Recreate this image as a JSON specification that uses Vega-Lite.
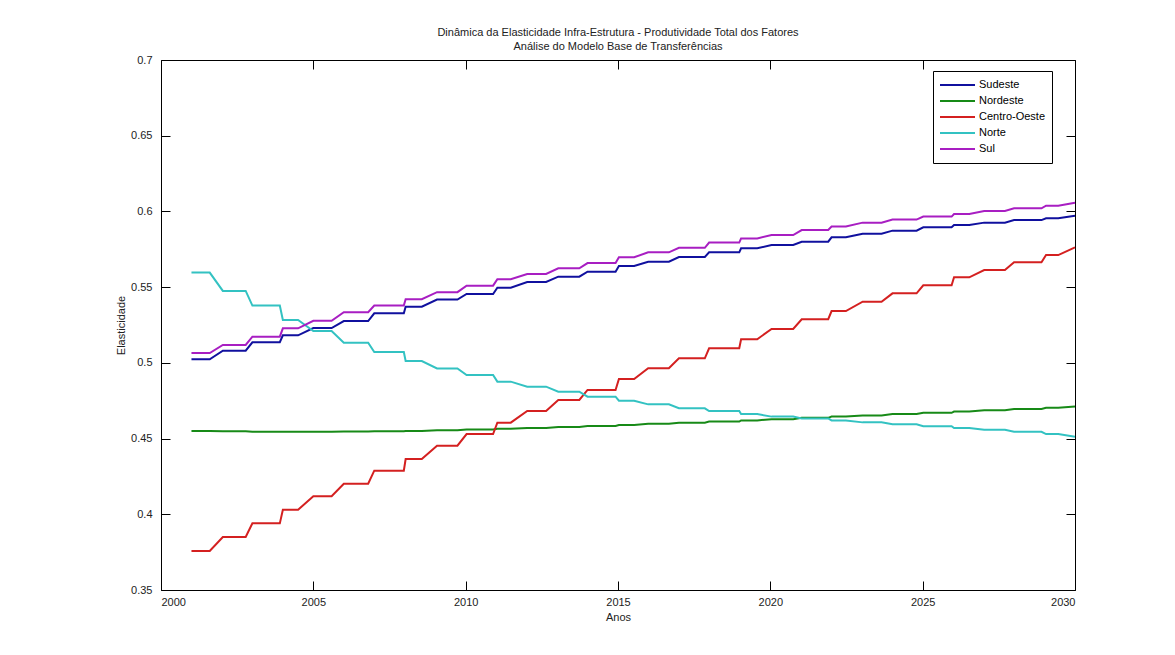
{
  "$schema": "https://vega.github.io/schema/vega-lite/v6.json",
  "width": 914,
  "height": 530,
  "autosize": "none",
  "padding": {"left": 161, "top": 60, "right": 100, "bottom": 65},
  "background": "white",
  "title": {
    "text": ["Dinâmica da Elasticidade Infra-Estrutura - Produtividade Total dos Fatores", "Análise do Modelo Base de Transferências"],
    "fontSize": 11, "font": "Liberation Sans", "fontWeight": "normal", "color": "#222",
    "anchor": "middle", "offset": 2, "lineHeight": 14
  },
  "data": {"values": [
    {"t": 2001.0, "Sudeste": 0.5023, "Nordeste": 0.4550, "Centro-Oeste": 0.3758, "Norte": 0.5596, "Sul": 0.5065},
    {"t": 2001.6, "Sudeste": 0.5023, "Nordeste": 0.4550, "Centro-Oeste": 0.3758, "Norte": 0.5596, "Sul": 0.5065},
    {"t": 2002.03, "Sudeste": 0.5080, "Nordeste": 0.4548, "Centro-Oeste": 0.3850, "Norte": 0.5475, "Sul": 0.5118},
    {"t": 2002.78, "Sudeste": 0.5080, "Nordeste": 0.4548, "Centro-Oeste": 0.3850, "Norte": 0.5475, "Sul": 0.5118},
    {"t": 2003.0, "Sudeste": 0.5136, "Nordeste": 0.4545, "Centro-Oeste": 0.3940, "Norte": 0.5378, "Sul": 0.5173},
    {"t": 2003.9, "Sudeste": 0.5136, "Nordeste": 0.4545, "Centro-Oeste": 0.3940, "Norte": 0.5378, "Sul": 0.5173},
    {"t": 2004.0, "Sudeste": 0.5182, "Nordeste": 0.4545, "Centro-Oeste": 0.4030, "Norte": 0.5283, "Sul": 0.5228},
    {"t": 2004.5, "Sudeste": 0.5182, "Nordeste": 0.4545, "Centro-Oeste": 0.4030, "Norte": 0.5283, "Sul": 0.5228},
    {"t": 2005.0, "Sudeste": 0.5230, "Nordeste": 0.4545, "Centro-Oeste": 0.4119, "Norte": 0.5210, "Sul": 0.5278},
    {"t": 2005.6, "Sudeste": 0.5230, "Nordeste": 0.4545, "Centro-Oeste": 0.4119, "Norte": 0.5210, "Sul": 0.5278},
    {"t": 2006.0, "Sudeste": 0.5276, "Nordeste": 0.4547, "Centro-Oeste": 0.4202, "Norte": 0.5133, "Sul": 0.5334},
    {"t": 2006.8, "Sudeste": 0.5276, "Nordeste": 0.4547, "Centro-Oeste": 0.4202, "Norte": 0.5133, "Sul": 0.5334},
    {"t": 2007.0, "Sudeste": 0.5327, "Nordeste": 0.4548, "Centro-Oeste": 0.4288, "Norte": 0.5072, "Sul": 0.5378},
    {"t": 2007.97, "Sudeste": 0.5327, "Nordeste": 0.4548, "Centro-Oeste": 0.4288, "Norte": 0.5072, "Sul": 0.5378},
    {"t": 2008.03, "Sudeste": 0.5371, "Nordeste": 0.4550, "Centro-Oeste": 0.4365, "Norte": 0.5012, "Sul": 0.5420},
    {"t": 2008.56, "Sudeste": 0.5371, "Nordeste": 0.4550, "Centro-Oeste": 0.4365, "Norte": 0.5012, "Sul": 0.5420},
    {"t": 2009.06, "Sudeste": 0.5418, "Nordeste": 0.4555, "Centro-Oeste": 0.4453, "Norte": 0.4963, "Sul": 0.5467},
    {"t": 2009.73, "Sudeste": 0.5418, "Nordeste": 0.4555, "Centro-Oeste": 0.4453, "Norte": 0.4963, "Sul": 0.5467},
    {"t": 2010.03, "Sudeste": 0.5455, "Nordeste": 0.4560, "Centro-Oeste": 0.4530, "Norte": 0.4920, "Sul": 0.5510},
    {"t": 2010.9, "Sudeste": 0.5455, "Nordeste": 0.4560, "Centro-Oeste": 0.4530, "Norte": 0.4920, "Sul": 0.5510},
    {"t": 2011.04, "Sudeste": 0.5496, "Nordeste": 0.4565, "Centro-Oeste": 0.4605, "Norte": 0.4876, "Sul": 0.5552},
    {"t": 2011.48, "Sudeste": 0.5496, "Nordeste": 0.4565, "Centro-Oeste": 0.4605, "Norte": 0.4876, "Sul": 0.5552},
    {"t": 2012.02, "Sudeste": 0.5534, "Nordeste": 0.4570, "Centro-Oeste": 0.4682, "Norte": 0.4843, "Sul": 0.5587},
    {"t": 2012.64, "Sudeste": 0.5534, "Nordeste": 0.4570, "Centro-Oeste": 0.4682, "Norte": 0.4843, "Sul": 0.5587},
    {"t": 2013.04, "Sudeste": 0.5569, "Nordeste": 0.4577, "Centro-Oeste": 0.4755, "Norte": 0.4810, "Sul": 0.5624},
    {"t": 2013.73, "Sudeste": 0.5569, "Nordeste": 0.4577, "Centro-Oeste": 0.4755, "Norte": 0.4810, "Sul": 0.5624},
    {"t": 2014.0, "Sudeste": 0.5602, "Nordeste": 0.4583, "Centro-Oeste": 0.4821, "Norte": 0.4777, "Sul": 0.5659},
    {"t": 2014.92, "Sudeste": 0.5602, "Nordeste": 0.4583, "Centro-Oeste": 0.4821, "Norte": 0.4777, "Sul": 0.5659},
    {"t": 2015.03, "Sudeste": 0.5640, "Nordeste": 0.4590, "Centro-Oeste": 0.4893, "Norte": 0.4750, "Sul": 0.5697},
    {"t": 2015.53, "Sudeste": 0.5640, "Nordeste": 0.4590, "Centro-Oeste": 0.4893, "Norte": 0.4750, "Sul": 0.5697},
    {"t": 2015.99, "Sudeste": 0.5668, "Nordeste": 0.4598, "Centro-Oeste": 0.4964, "Norte": 0.4726, "Sul": 0.5730},
    {"t": 2016.67, "Sudeste": 0.5668, "Nordeste": 0.4598, "Centro-Oeste": 0.4964, "Norte": 0.4726, "Sul": 0.5730},
    {"t": 2017.0, "Sudeste": 0.5699, "Nordeste": 0.4605, "Centro-Oeste": 0.5030, "Norte": 0.4700, "Sul": 0.5760},
    {"t": 2017.85, "Sudeste": 0.5699, "Nordeste": 0.4605, "Centro-Oeste": 0.5030, "Norte": 0.4700, "Sul": 0.5760},
    {"t": 2017.99, "Sudeste": 0.5730, "Nordeste": 0.4612, "Centro-Oeste": 0.5096, "Norte": 0.4682, "Sul": 0.5794},
    {"t": 2018.98, "Sudeste": 0.5730, "Nordeste": 0.4612, "Centro-Oeste": 0.5096, "Norte": 0.4682, "Sul": 0.5794},
    {"t": 2019.04, "Sudeste": 0.5757, "Nordeste": 0.4620, "Centro-Oeste": 0.5156, "Norte": 0.4662, "Sul": 0.5822},
    {"t": 2019.57, "Sudeste": 0.5757, "Nordeste": 0.4620, "Centro-Oeste": 0.5156, "Norte": 0.4662, "Sul": 0.5822},
    {"t": 2020.04, "Sudeste": 0.5778, "Nordeste": 0.4628, "Centro-Oeste": 0.5224, "Norte": 0.4645, "Sul": 0.5844},
    {"t": 2020.75, "Sudeste": 0.5778, "Nordeste": 0.4628, "Centro-Oeste": 0.5224, "Norte": 0.4645, "Sul": 0.5844},
    {"t": 2021.03, "Sudeste": 0.5800, "Nordeste": 0.4637, "Centro-Oeste": 0.5288, "Norte": 0.4633, "Sul": 0.5877},
    {"t": 2021.9, "Sudeste": 0.5800, "Nordeste": 0.4637, "Centro-Oeste": 0.5288, "Norte": 0.4633, "Sul": 0.5877},
    {"t": 2022.01, "Sudeste": 0.5829, "Nordeste": 0.4645, "Centro-Oeste": 0.5342, "Norte": 0.4620, "Sul": 0.5900},
    {"t": 2022.48, "Sudeste": 0.5829, "Nordeste": 0.4645, "Centro-Oeste": 0.5342, "Norte": 0.4620, "Sul": 0.5900},
    {"t": 2023.03, "Sudeste": 0.5853, "Nordeste": 0.4653, "Centro-Oeste": 0.5404, "Norte": 0.4607, "Sul": 0.5926},
    {"t": 2023.65, "Sudeste": 0.5853, "Nordeste": 0.4653, "Centro-Oeste": 0.5404, "Norte": 0.4607, "Sul": 0.5926},
    {"t": 2024.01, "Sudeste": 0.5873, "Nordeste": 0.4662, "Centro-Oeste": 0.5459, "Norte": 0.4595, "Sul": 0.5946},
    {"t": 2024.8, "Sudeste": 0.5873, "Nordeste": 0.4662, "Centro-Oeste": 0.5459, "Norte": 0.4595, "Sul": 0.5946},
    {"t": 2025.02, "Sudeste": 0.5895, "Nordeste": 0.4670, "Centro-Oeste": 0.5512, "Norte": 0.4582, "Sul": 0.5966},
    {"t": 2025.95, "Sudeste": 0.5895, "Nordeste": 0.4670, "Centro-Oeste": 0.5512, "Norte": 0.4582, "Sul": 0.5966},
    {"t": 2026.03, "Sudeste": 0.5910, "Nordeste": 0.4678, "Centro-Oeste": 0.5565, "Norte": 0.4570, "Sul": 0.5983},
    {"t": 2026.53, "Sudeste": 0.5910, "Nordeste": 0.4678, "Centro-Oeste": 0.5565, "Norte": 0.4570, "Sul": 0.5983},
    {"t": 2027.02, "Sudeste": 0.5926, "Nordeste": 0.4687, "Centro-Oeste": 0.5613, "Norte": 0.4558, "Sul": 0.6003},
    {"t": 2027.7, "Sudeste": 0.5926, "Nordeste": 0.4687, "Centro-Oeste": 0.5613, "Norte": 0.4558, "Sul": 0.6003},
    {"t": 2028.0, "Sudeste": 0.5943, "Nordeste": 0.4695, "Centro-Oeste": 0.5664, "Norte": 0.4545, "Sul": 0.6021},
    {"t": 2028.9, "Sudeste": 0.5943, "Nordeste": 0.4695, "Centro-Oeste": 0.5664, "Norte": 0.4545, "Sul": 0.6021},
    {"t": 2029.05, "Sudeste": 0.5955, "Nordeste": 0.4703, "Centro-Oeste": 0.5712, "Norte": 0.4530, "Sul": 0.6038},
    {"t": 2029.45, "Sudeste": 0.5955, "Nordeste": 0.4703, "Centro-Oeste": 0.5712, "Norte": 0.4530, "Sul": 0.6038},
    {"t": 2030.0, "Sudeste": 0.5972, "Nordeste": 0.4712, "Centro-Oeste": 0.5763, "Norte": 0.4512, "Sul": 0.6058}
  ]},
  "transform": [{"fold": ["Sudeste", "Nordeste", "Centro-Oeste", "Norte", "Sul"], "as": ["regiao", "v"]}],
  "layer": [
    {
      "mark": {"type": "line", "strokeWidth": 2, "interpolate": "linear"},
      "encoding": {
        "x": {"field": "t", "type": "quantitative", "scale": {"domain": [2000, 2030], "nice": false, "zero": false},
          "axis": {"orient": "bottom", "values": [2000, 2005, 2010, 2015, 2020, 2025, 2030], "format": "d", "offset": -9, "tickSize": 9, "domain": false, "grid": false, "labelPadding": 6, "title": "Anos", "titlePadding": 4}},
        "y": {"field": "v", "type": "quantitative", "scale": {"domain": [0.35, 0.7], "nice": false, "zero": false},
          "axis": {"orient": "left", "values": [0.35, 0.4, 0.45, 0.5, 0.55, 0.6, 0.65, 0.7], "format": ".2~f", "offset": -9, "tickSize": 9, "domain": false, "grid": false, "labelPadding": 9, "title": "Elasticidade", "titlePadding": 4}},
        "color": {"field": "regiao", "type": "nominal",
          "scale": {"domain": ["Sudeste", "Nordeste", "Centro-Oeste", "Norte", "Sul"], "range": ["#10109e", "#178a17", "#d42020", "#33c2c2", "#a81ec2"]},
          "legend": {"orient": "none", "legendX": 772, "legendY": 11, "title": null, "strokeColor": "#000", "fillColor": "#fff", "padding": 6, "symbolType": "stroke", "symbolSize": 1225, "symbolStrokeWidth": 2, "clipHeight": 16, "labelFontSize": 11, "labelFont": "Liberation Sans", "labelColor": "#000", "labelOffset": 3, "rowPadding": 0}}
      }
    },
    {
      "mark": {"type": "line", "strokeOpacity": 0},
      "encoding": {
        "x": {"field": "t", "type": "quantitative", "scale": {"domain": [2000, 2030], "nice": false, "zero": false},
          "axis": {"orient": "top", "values": [2000, 2005, 2010, 2015, 2020, 2025, 2030], "offset": -9, "tickSize": 9, "domain": false, "grid": false, "labels": false, "title": null}},
        "y": {"field": "v", "type": "quantitative", "scale": {"domain": [0.35, 0.7], "nice": false, "zero": false},
          "axis": {"orient": "right", "values": [0.35, 0.4, 0.45, 0.5, 0.55, 0.6, 0.65, 0.7], "offset": -9, "tickSize": 9, "domain": false, "grid": false, "labels": false, "title": null}},
        "detail": {"field": "regiao", "type": "nominal"}
      }
    }
  ],
  "resolve": {"axis": {"x": "independent", "y": "independent"}},
  "config": {
    "view": {"stroke": "#000", "strokeWidth": 1},
    "axis": {"labelFont": "Liberation Sans", "labelFontSize": 11, "labelColor": "#222", "tickColor": "#000", "tickWidth": 1, "titleFont": "Liberation Sans", "titleFontSize": 11, "titleFontWeight": "normal", "titleColor": "#222"}
  }
}
